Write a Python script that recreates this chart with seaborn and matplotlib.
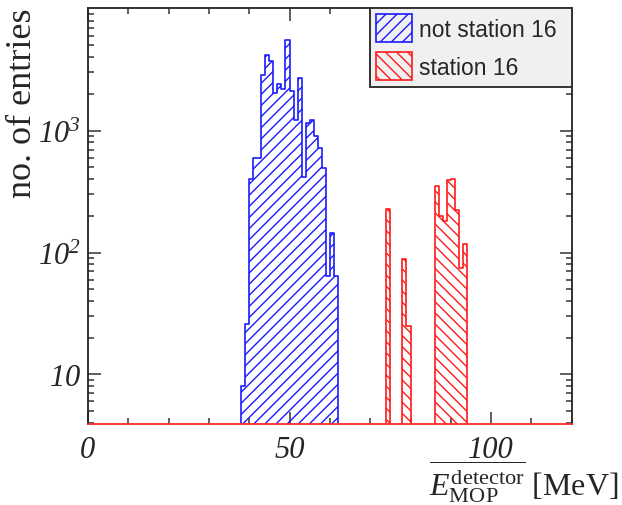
import numpy as np
import pandas as pd
import matplotlib
matplotlib.use("Agg")
import matplotlib.pyplot as plt
from matplotlib.patches import Patch
from matplotlib.ticker import FixedLocator, FixedFormatter, MultipleLocator, LogLocator, NullFormatter
import seaborn as sns

# Lower edges of the 1 MeV bins and the number of entries in each bin
other_bins = list(range(38, 62))
other_counts = [8, 26, 400, 600, 600, 2850, 4190, 3750, 2050, 2430, 2180, 5510,
                2100, 1230, 2720, 415, 1150, 1230, 910, 715, 490, 64, 146, 64]
st16_bins = [74, 78, 79, 86, 87, 88, 89, 90, 91, 92, 93]
st16_counts = [226, 88, 25, 350, 199, 181, 393, 405, 222, 75, 117]

series_labels = ["not station 16", "station 16"]
series_colors = ["#1a1aff", "#ff1a1a"]
x_tick_values = [0, 50, 100]
x_tick_labels = ["0", "50", "100"]
y_tick_values = [10, 100, 1000]
# \mathsf is mapped to the italic serif face so the digits stay italic
y_tick_labels = [r"$\mathsf{10}$", r"$\mathsf{10^{2}}$", r"$\mathsf{10^{3}}$"]
x_title = r"$\overline{E^{\mathrm{detector}}_{\mathrm{MOP}}}$ [MeV]"
y_title = "no. of entries"

sns.set_theme(style="ticks")
plt.rcParams.update({
    "font.family": ["Liberation Serif", "DejaVu Serif"],
    "mathtext.fontset": "custom",
    "mathtext.rm": "Liberation Serif",
    "mathtext.it": "Liberation Serif:italic",
    "mathtext.sf": "Liberation Serif:italic",
    "mathtext.bf": "Liberation Serif:bold",
    "hatch.linewidth": 1.0,
})

fig = plt.figure(figsize=(6.22, 5.06), dpi=100)
ax = fig.add_axes([87.9 / 622, 1 - 425.3 / 506, (571.8 - 87.9) / 622, (425.3 - 8.7) / 506])

df_other = pd.DataFrame({"E": np.array(other_bins) + 0.5, "n": other_counts})
df_st16 = pd.DataFrame({"E": np.array(st16_bins) + 0.5, "n": st16_counts})

sns.histplot(data=df_other, x="E", weights="n", binwidth=1, binrange=(0, 120),
             element="step", fill=True,
             color=series_colors[0], facecolor="none", edgecolor=series_colors[0],
             hatch="///", linewidth=1.2, ax=ax)
sns.histplot(data=df_st16, x="E", weights="n", binwidth=1, binrange=(0, 120),
             element="step", fill=True,
             color=series_colors[1], facecolor="none", edgecolor=series_colors[1],
             hatch="\\\\\\", linewidth=1.2, ax=ax)

ax.set_yscale("log")
ax.set_xlim(0, 120)
ax.set_ylim(3.9, 10200)

# x axis: labelled majors every 50, minors every 10
ax.xaxis.set_major_locator(FixedLocator(x_tick_values))
ax.xaxis.set_major_formatter(FixedFormatter(x_tick_labels))
ax.xaxis.set_minor_locator(MultipleLocator(10))

# y axis: decade labels, minors at 2..9 per decade
ax.yaxis.set_major_locator(FixedLocator(y_tick_values))
ax.yaxis.set_major_formatter(FixedFormatter(y_tick_labels))
ax.yaxis.set_minor_locator(LogLocator(base=10, subs=np.arange(2, 10)))
ax.yaxis.set_minor_formatter(NullFormatter())

ax.tick_params(which="both", direction="in", top=True, right=True,
               color="#333333", width=1.1, labelsize=22)
ax.tick_params(which="major", length=9)
ax.tick_params(which="minor", length=4.5)
ax.tick_params(axis="x", which="major", pad=8)
ax.tick_params(axis="y", which="major", pad=5)
for lab in ax.get_xticklabels():
    lab.set_fontstyle("italic")

for side in ["left", "right", "top"]:
    ax.spines[side].set_color("#222222")
    ax.spines[side].set_linewidth(1.3)
ax.spines["bottom"].set_color("#ff2a2a")
ax.spines["bottom"].set_linewidth(1.3)

ax.set_xlabel("")
ax.set_ylabel("")

fig.text(23 / 622, 1 - 8 / 506, y_title, rotation=90, ha="center", va="top",
         fontsize=26, family="Liberation Serif")
fig.text(619 / 622, 0.5 / 506, x_title, ha="right", va="bottom", fontsize=23,
         family="Liberation Serif")

handles = [
    Patch(facecolor="none", edgecolor=series_colors[0], hatch="///", linewidth=1.2),
    Patch(facecolor="none", edgecolor=series_colors[1], hatch="\\\\\\", linewidth=1.2),
]
leg_x0 = (370 - 87.9) / (571.8 - 87.9)
leg = ax.legend(handles, series_labels, loc="upper right",
                bbox_to_anchor=(leg_x0, 0.0, 1.0 - leg_x0, 1.0), mode="expand",
                frameon=True, fancybox=False, facecolor="#f0f0f0", edgecolor="#333333",
                framealpha=1, borderaxespad=0, borderpad=0.28,
                prop={"family": "Liberation Sans", "size": 16.5},
                handlelength=1.57, handleheight=1.5, labelspacing=0.44,
                handletextpad=0.3)
leg.get_frame().set_linewidth(1.4)

fig.savefig("out.png", dpi=100)
